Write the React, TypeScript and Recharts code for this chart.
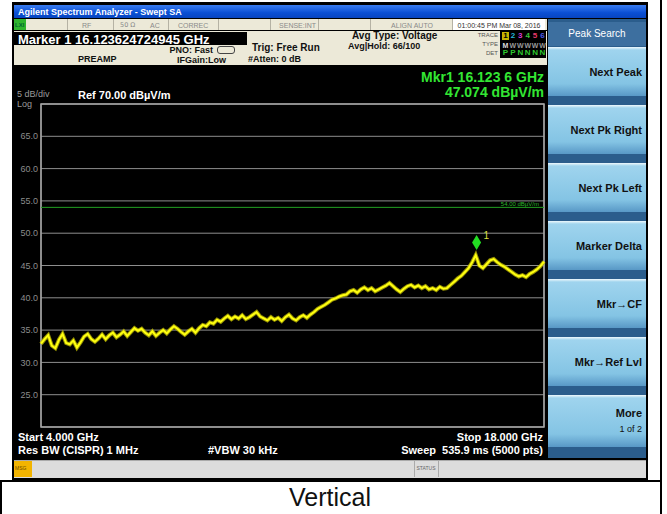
import React from 'react';
import { LineChart, Line, XAxis, YAxis, CartesianGrid, ReferenceLine, ReferenceDot, ReferenceArea } from 'recharts';

// sweep points (GHz)
const freqs = [
  4.0, 4.1, 4.2, 4.3, 4.4, 4.5, 4.6, 4.7, 4.8, 4.9,
  5.0, 5.1, 5.2, 5.3, 5.4, 5.5, 5.6, 5.7, 5.8, 5.9,
  6.0, 6.1, 6.2, 6.3, 6.4, 6.5, 6.6, 6.7, 6.8, 6.9,
  7.0, 7.1, 7.2, 7.3, 7.4, 7.5, 7.6, 7.7, 7.8, 7.9,
  8.0, 8.1, 8.2, 8.3, 8.4, 8.5, 8.6, 8.7, 8.8, 8.9,
  9.0, 9.1, 9.2, 9.3, 9.4, 9.5, 9.6, 9.7, 9.8, 9.9,
  10.0, 10.1, 10.2, 10.3, 10.4, 10.5, 10.6, 10.7, 10.8, 10.9,
  11.0, 11.1, 11.2, 11.3, 11.4, 11.5, 11.6, 11.7, 11.8, 11.9,
  12.0, 12.1, 12.2, 12.3, 12.4, 12.5, 12.6, 12.7, 12.8, 12.9,
  13.0, 13.1, 13.2, 13.3, 13.4, 13.5, 13.6, 13.7, 13.8, 13.9,
  14.0, 14.1, 14.2, 14.3, 14.4, 14.5, 14.6, 14.7, 14.8, 14.9,
  15.0, 15.1, 15.2, 15.3, 15.4, 15.5, 15.6, 15.7, 15.8, 15.9,
  16.0, 16.1, 16.2, 16.3, 16.4, 16.5, 16.6, 16.7, 16.8, 16.9,
  17.0, 17.1, 17.2, 17.3, 17.4, 17.5, 17.6, 17.7, 17.8, 17.9,
  18.0,
];

// dBµV/m
const levels = [
  32.9, 33.6, 34.2, 32.6, 32.2, 33.5, 34.4, 33.0, 32.8, 33.4,
  32.3, 33.1, 34.0, 34.4, 33.6, 33.2, 33.7, 34.3, 33.6, 34.2,
  34.6, 33.9, 34.3, 34.8, 34.1, 34.7, 35.3, 34.9, 35.2, 34.6,
  34.2, 34.8, 34.1, 34.6, 35.0, 34.5, 35.1, 35.6, 35.2, 34.7,
  34.3, 34.8, 35.2, 34.6, 35.3, 35.8, 35.6, 36.2, 36.0, 36.6,
  36.3, 36.8, 37.2, 36.7, 37.1, 36.8, 37.3, 36.7, 37.0, 37.4,
  37.8, 37.1, 36.8, 36.5, 37.0, 36.6, 36.9, 36.4, 37.0, 37.4,
  36.8, 36.5, 37.0, 37.3, 36.9, 37.4, 37.8, 38.3, 38.6, 38.9,
  39.3, 39.7, 39.9, 40.2, 40.4, 40.5, 41.0, 41.2, 40.8, 41.3,
  41.6, 41.2, 41.5, 41.0, 41.3, 41.6, 41.9, 42.3, 41.8, 41.3,
  40.9, 41.4, 41.8, 42.0, 41.6, 41.9, 41.5, 41.8, 41.3, 41.5,
  41.2, 41.7, 41.4, 41.5, 42.0, 42.5, 43.0, 43.4, 44.0, 44.6,
  45.5, 46.6, 45.0, 44.6, 45.2, 45.8, 46.0, 45.5, 45.1, 44.8,
  44.4, 44.0, 43.6, 43.3, 43.5, 43.2, 43.7, 44.0, 44.4, 44.9,
  45.6,
];

const xTicks = [4, 5.4, 6.8, 8.2, 9.6, 11, 12.4, 13.8, 15.2, 16.6, 18];
const yTicks = [20, 25, 30, 35, 40, 45, 50, 55, 60, 65, 70];
const limitLevel = 54;
const marker = { freq: 16.1236, level: 47.074 };

const softkeys = ['Next Peak', 'Next Pk Right', 'Next Pk Left', 'Marker Delta', 'Mkr\u2192CF', 'Mkr\u2192Ref Lvl'];

const data = freqs.map((f, i) => ({ f, level: levels[i] }));

const FONT = '"Liberation Sans", Arial, sans-serif';

type TProps = { x: number, y: number, right?: boolean, center?: boolean, style?: React.CSSProperties, children: React.ReactNode };

const T = ({ x, y, right, center, style, children }: TProps) => (
  <div
    style={{
      position: 'absolute', left: x, top: y, whiteSpace: 'nowrap', lineHeight: 1,
      transform: `translate(${right ? '-100%' : center ? '-50%' : '0'}, -50%)`,
      ...style,
    }}
  >
    {children}
  </div>
);

const Box = ({ x, y, w, h, style }: { x: number, y: number, w: number, h: number, style?: React.CSSProperties }) => (
  <div style={{ position: 'absolute', left: x, top: y, width: w, height: h, ...style }} />
);

const MarkerShape = (props: any) => {
  const { cx, cy } = props;
  const top = cy - 17;
  return (
    <g>
      <polygon points={`${cx},${top} ${cx + 4.5},${top + 7.5} ${cx},${top + 15} ${cx - 4.5},${top + 7.5}`} fill="#22dd22" />
      <text x={cx + 7} y={top + 4} fill="#d8e040" fontSize={10} fontFamily={FONT}>1</text>
    </g>
  );
};

const statusGray = { color: '#8a8a8a', fontSize: 7, fontFamily: FONT };
const white = { color: '#fff', fontWeight: 700, fontSize: 11, fontFamily: FONT };
const dark = { color: '#111', fontWeight: 700, fontSize: 9, fontFamily: FONT };
const keyBg = 'linear-gradient(to bottom, #eef8fc 0px, #9fd4ee 3px, #84c4e4 75%, #5898c6 100%)';

export default function App() {
  return (
    <div style={{ position: 'absolute', left: 0, top: 0, width: 667, height: 514, background: '#fff', overflow: 'hidden', fontFamily: FONT }}>
      {/* cell borders */}
      <Box x={0} y={480} w={662} h={2} style={{ background: '#000' }} />
      <Box x={0} y={480} w={2} h={34} style={{ background: '#000' }} />
      <Box x={660} y={0} w={2} h={514} style={{ background: '#000' }} />
      <T x={330} y={497} center style={{ fontSize: 25, color: '#111', fontFamily: FONT }}>Vertical</T>

      {/* screenshot frame */}
      <Box x={12} y={2} w={636} h={478} style={{ background: '#000' }} />
      <Box x={14} y={5} w={632} h={13} style={{ background: 'linear-gradient(to bottom, #3a7cf0, #0a4fd4 60%, #0845c0)' }} />
      <T x={18} y={12} style={{ color: '#fff', fontSize: 9, fontWeight: 700 }}>Agilent Spectrum Analyzer - Swept SA</T>

      {/* status row */}
      <Box x={14} y={19} w={533} h={11} style={{ background: '#ece9d8' }} />
      <Box x={14} y={19} w={12} h={11} style={{ background: '#2fb52f' }} />
      <T x={15} y={25} style={{ fontSize: 6, fontWeight: 700, color: '#063' }}>LXI</T>
      {[67, 113, 168, 218, 270, 318, 370, 452].map(x => (
        <Box key={x} x={x} y={19} w={1} h={11} style={{ background: '#b5b2a4' }} />
      ))}
      <T x={82} y={25} style={statusGray}>RF</T>
      <T x={120} y={25} style={{ ...statusGray, fontFamily: '"DejaVu Sans", sans-serif', fontSize: 6.5 }}>50 Ω</T>
      <T x={150} y={25} style={statusGray}>AC</T>
      <T x={178} y={25} style={statusGray}>CORREC</T>
      <T x={316} y={25} right style={statusGray}>SENSE:INT</T>
      <T x={433} y={25} right style={statusGray}>ALIGN AUTO</T>
      <Box x={453} y={19} w={92} h={11} style={{ background: '#fff' }} />
      <T x={499} y={25} center style={{ ...statusGray, color: '#333', fontSize: 7 }}>01:00:45 PM Mar 08, 2016</T>

      {/* info panel */}
      <Box x={14} y={31} w={533} h={34} style={{ background: '#ece9d8' }} />
      <Box x={14} y={32} w={233} h={13} style={{ background: '#000' }} />
      <T x={18} y={38.5} style={{ color: '#fff', fontSize: 13, fontWeight: 700 }}>Marker 1 16.123624724945 GHz</T>
      <T x={78} y={59} style={dark}>PREAMP</T>
      <T x={213} y={50} right style={dark}>PNO: Fast</T>
      <T x={226} y={60} right style={dark}>IFGain:Low</T>
      <Box x={217} y={46} w={16} h={6} style={{ border: '1px solid #444', borderRadius: 3 }} />
      <T x={252} y={48} style={{ ...dark, fontSize: 10 }}>Trig: Free Run</T>
      <T x={248} y={59} style={dark}>#Atten: 0 dB</T>
      <T x={352} y={36} style={{ ...dark, fontSize: 10 }}>Avg Type: Voltage</T>
      <T x={348} y={46} style={dark}>Avg|Hold: 66/100</T>
      <T x={498} y={35} right style={{ ...statusGray, fontSize: 6, color: '#555' }}>TRACE</T>
      <T x={498} y={44} right style={{ ...statusGray, fontSize: 6, color: '#555' }}>TYPE</T>
      <T x={498} y={53} right style={{ ...statusGray, fontSize: 6, color: '#555' }}>DET</T>
      <Box x={500} y={31} w={46} h={27} style={{ background: '#000' }} />
      <Box x={502} y={32} w={7} h={8} style={{ background: '#c8b400' }} />
      {['1', '2', '3', '4', '5', '6'].map((n, i) => (
        <T key={n} x={505.5 + i * 7.4} y={36} center style={{ fontSize: 8, fontWeight: 700, color: ['#000', '#23b5d8', '#d43bd4', '#3ac83a', '#e83a6a', '#4a5ae8'][i] }}>{n}</T>
      ))}
      {['M', 'W', 'W', 'W', 'W', 'W'].map((n, i) => (
        <T key={i} x={505.5 + i * 7.4} y={45} center style={{ fontSize: 7, fontWeight: 700, color: i === 0 ? '#ddd' : '#999' }}>{n}</T>
      ))}
      {['P', 'P', 'N', 'N', 'N', 'N'].map((n, i) => (
        <T key={i} x={505.5 + i * 7.4} y={53} center style={{ fontSize: 8, fontWeight: 700, color: '#2ec82e' }}>{n}</T>
      ))}

      {/* screen */}
      <Box x={14} y={66} w={534} h={392} style={{ background: '#000' }} />
      <div style={{ position: 'absolute', left: 14, top: 66 }}>
        <LineChart width={534} height={392} data={data} margin={{ top: 38, right: 4, left: 0, bottom: 31 }}>
          <CartesianGrid stroke="#8e8e8e" strokeWidth={1} xAxisId={0} yAxisId={0} />
          <XAxis dataKey="f" type="number" domain={[4, 18]} ticks={xTicks} height={0} tick={false} axisLine={false} tickLine={false} />
          <YAxis
            type="number" domain={[20, 70]} ticks={yTicks} width={27} axisLine={false} tickLine={false} tickSize={0} tickMargin={3}
            tick={{ fill: '#8c8c8c', fontSize: 9, fontFamily: FONT }}
            tickFormatter={(v: number) => (v === 20 || v === 70 ? '' : v.toFixed(1))}
          />
          <ReferenceArea x1={4} x2={18} y1={20} y2={70} fill="none" stroke="#a6a6a6" strokeWidth={1.5} />
          <ReferenceLine
            y={limitLevel} stroke="#22a022" strokeWidth={1}
            label={{ value: '54.00 dBµV/m', position: 'insideRight', fill: '#2bb52b', fontSize: 6, dy: -3, fontFamily: FONT }}
          />
          <Line dataKey="level" type="linear" stroke="#bdb800" strokeOpacity={0.8} strokeWidth={4} dot={false} isAnimationActive={false} />
          <Line dataKey="level" type="linear" stroke="#ffff10" strokeWidth={2} dot={false} isAnimationActive={false} />
          <ReferenceDot x={marker.freq} y={marker.level} r={0} shape={MarkerShape} />
        </LineChart>
      </div>
      <T x={17} y={94} style={{ color: '#9a9a9a', fontSize: 9 }}>5 dB/div</T>
      <T x={17} y={104} style={{ color: '#9a9a9a', fontSize: 9 }}>Log</T>
      <T x={78} y={95} style={white}>Ref 70.00 dBµV/m</T>
      <T x={544} y={77} right style={{ color: '#33e633', fontSize: 14, fontWeight: 700 }}>Mkr1 16.123 6 GHz</T>
      <T x={544} y={92} right style={{ color: '#33e633', fontSize: 14, fontWeight: 700 }}>47.074 dBµV/m</T>
      <T x={18} y={437} style={white}>Start 4.000 GHz</T>
      <T x={543} y={437} right style={white}>Stop 18.000 GHz</T>
      <T x={18} y={450} style={white}>Res BW (CISPR) 1 MHz</T>
      <T x={208} y={450} style={white}>#VBW 30 kHz</T>
      <T x={543} y={450} right style={white}>Sweep&nbsp;&nbsp;535.9 ms (5000 pts)</T>

      {/* status bar */}
      <Box x={14} y={460} w={632} h={17} style={{ background: '#dcdcdc', borderTop: '1px solid #aaa' }} />
      <Box x={14} y={461} w={18} h={16} style={{ background: '#f2b400' }} />
      <T x={15} y={468} style={{ fontSize: 5, color: '#6a4a00' }}>MSG</T>
      <Box x={414} y={461} w={1} h={16} style={{ background: '#aaa' }} />
      <Box x={438} y={461} w={1} h={16} style={{ background: '#aaa' }} />
      <T x={426} y={468} center style={{ fontSize: 5, color: '#666' }}>STATUS</T>

      {/* softkeys */}
      <Box x={548} y={19} w={98} h={439} style={{ background: '#2b5d8c' }} />
      <Box x={548} y={22} w={98} h={24} style={{ background: '#3d6f9f' }} />
      <T x={597} y={34} center style={{ color: '#fff', fontSize: 10 }}>Peak Search</T>
      {softkeys.map((k, i) => (
        <React.Fragment key={k}>
          <Box x={548} y={47 + i * 58} w={98} h={49} style={{ background: keyBg }} />
          <T x={642} y={72 + i * 58} right style={{ color: '#111', fontSize: 11, fontWeight: 700 }}>{k}</T>
        </React.Fragment>
      ))}
      <Box x={548} y={395} w={98} h={52} style={{ background: keyBg }} />
      <T x={642} y={413} right style={{ color: '#111', fontSize: 11, fontWeight: 700 }}>More</T>
      <T x={642} y={429} right style={{ color: '#111', fontSize: 9 }}>1 of 2</T>
    </div>
  );
}
